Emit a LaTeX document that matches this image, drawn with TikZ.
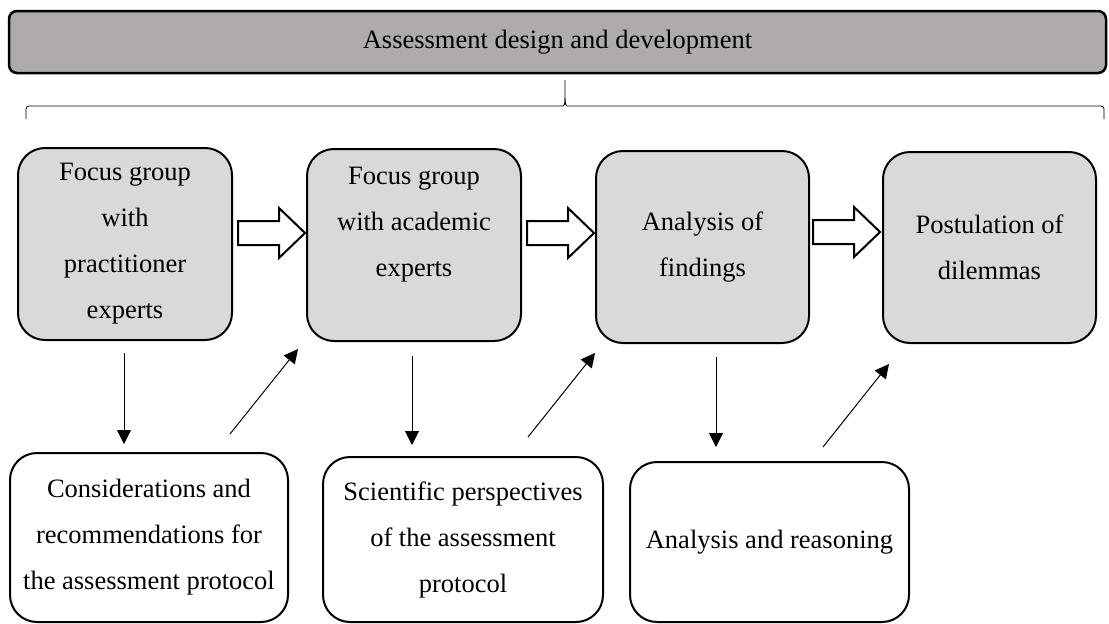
\documentclass[tikz,border=0pt]{standalone}
\usepackage{fontspec}
\setmainfont{Liberation Serif}
\usetikzlibrary{arrows.meta,calc}
\definecolor{barfill}{RGB}{175,171,171}
\definecolor{boxfill}{RGB}{217,217,217}
\begin{document}
\begin{tikzpicture}[x=1pt,y=-1pt,
  txt/.style={font=\fontsize{26.5}{46}\selectfont, align=center, inner sep=0pt},
  topbox/.style={txt, draw, line width=2pt, fill=boxfill, rounded corners=27pt, minimum width=214pt, minimum height=192pt},
  botbox/.style={txt, draw, line width=2pt, fill=white, rounded corners=27pt},
  thinarr/.style={line width=1pt, -{Triangle[length=14pt,width=14pt]}},
  blockarr/.pic={\draw[line width=2pt, fill=white, line join=miter]
      (0,-12) -- (41,-12) -- (41,-25) -- (67,0) -- (41,25) -- (41,12) -- (0,12) -- cycle;}
]
\useasboundingbox (0,0) rectangle (1109,624);

% title bar
\node[txt, draw, line width=2.5pt, fill=barfill, rounded corners=8pt,
      minimum width=1097pt, minimum height=62pt] (bar) at (557.5,42) {Assessment design and development};

% brace
\draw[line width=0.8pt, rounded corners=3pt] (26,119) -- (26,106) -- (560,106)
   .. controls (564,106) and (565,104) .. (565,98) -- (565,80);
\draw[line width=0.8pt, rounded corners=3pt] (565,98) .. controls (565,104) and (566,106) .. (570,106)
   -- (1104,106) -- (1104,119);

% top row
\node[topbox] (b1) at (125,244) {Focus group\\with\\practitioner\\experts};
\node[topbox] (b2) at (414,245) {Focus group\\with academic\\experts\\\mbox{}};
\node[topbox, minimum width=213pt] (b3) at (702.5,247) {Analysis of\\findings};
\node[topbox, minimum width=213pt, minimum height=191pt] (b4) at (989.5,247.5) {Postulation of\\dilemmas};

% block arrows
\pic at ($(b1.east)+(5,-11)$) {blockarr};
\pic at ($(b2.east)+(5,-12)$) {blockarr};
\pic at ($(b3.east)+(3,-15)$) {blockarr};

% bottom row
\node[botbox, minimum width=278pt, minimum height=169pt] (c1) at (149,537.5)
  {Considerations and\\recommendations for\\the assessment protocol};
\node[botbox, minimum width=280pt, minimum height=165pt] (c2) at (463,539.5)
  {Scientific perspectives\\of the assessment\\protocol};
\node[botbox, minimum width=279pt, minimum height=160pt] (c3) at (769.5,542)
  {Analysis and reasoning};

% thin arrows
\coordinate (d1s) at (124,353);  \coordinate (d1e) at (124,444);
\coordinate (u1s) at (230,434);  \coordinate (u1e) at (298,349);
\coordinate (d2s) at (412,356);  \coordinate (d2e) at (412,445);
\coordinate (u2s) at (528,437);  \coordinate (u2e) at (595,353);
\coordinate (d3s) at (716,357);  \coordinate (d3e) at (716,447);
\coordinate (u3s) at (823,447);  \coordinate (u3e) at (889,364);
\draw[thinarr] (d1s) -- (d1e);
\draw[thinarr] (u1s) -- (u1e);
\draw[thinarr] (d2s) -- (d2e);
\draw[thinarr] (u2s) -- (u2e);
\draw[thinarr] (d3s) -- (d3e);
\draw[thinarr] (u3s) -- (u3e);
\end{tikzpicture}
\end{document}
